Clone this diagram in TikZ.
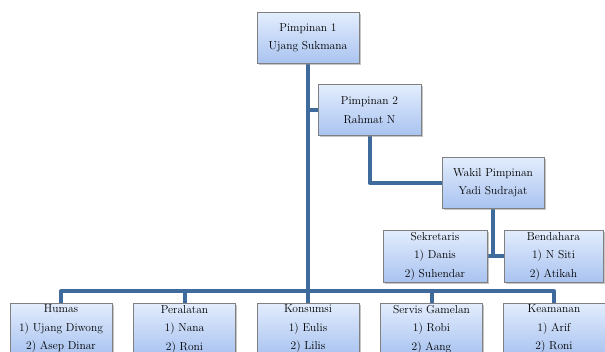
\documentclass[tikz,border=0pt]{standalone}
\usetikzlibrary{shadows,backgrounds}
\definecolor{boxtop}{HTML}{E3EDFD}
\definecolor{boxbot}{HTML}{A9C3F0}
\definecolor{boxline}{HTML}{808080}
\definecolor{conn}{HTML}{3F6A9C}
\begin{document}
\begin{tikzpicture}[x=1pt,y=-1pt,
  box/.style={draw=boxline, line width=0.8pt, top color=boxtop, bottom color=boxbot,
    minimum width=102pt, minimum height=51pt, align=center, inner sep=0pt,
    font=\fontsize{11.5}{18.5}\selectfont,
    drop shadow={shadow xshift=1.5pt, shadow yshift=-1.5pt, fill=black!45, opacity=0.5}},
  wire/.style={draw=conn, line width=4pt, line join=round}]
\useasboundingbox (0,0) rectangle (605,351);
\clip (0,0) rectangle (605,351);
\coordinate (bus) at (308,291);
% boxes
\node[box] (p1) at (308,38) {Pimpinan 1\\Ujang Sukmana};
\node[box, minimum width=103pt] (p2) at (369.5,110) {Pimpinan 2\\Rahmat N};
\node[box] (wak) at (493,182.5) {Wakil Pimpinan\\Yadi Sudrajat};
\node[box, minimum width=104pt, minimum height=52pt] (sek) at (435,256) {Sekretaris\\1) Danis\\2) Suhendar};
\node[box, minimum width=99pt, minimum height=52pt] (ben) at (553.5,256) {Bendahara\\1) N Siti\\2) Atikah};
\node[box, minimum height=52pt] (hum) at (61,329) {Humas\\1) Ujang Diwong\\2) Asep Dinar};
\node[box, minimum height=52pt] (per) at (184.5,329) {Peralatan\\1) Nana\\2) Roni};
\node[box, minimum height=52pt] (kon) at (308,329) {Konsumsi\\1) Eulis\\2) Lilis};
\node[box, minimum height=52pt] (ser) at (431.5,329) {Servis Gamelan\\1) Robi\\2) Aang};
\node[box, minimum height=52pt] (kea) at (554,329) {Keamanan\\1) Arif\\2) Roni};
% connectors behind boxes
\begin{scope}[on background layer]
\draw[wire] (p1.south) -- (kon.north);
\draw[wire] (p1.south |- p2.west) -- (p2.west);
\draw[wire] (p2.south) |- (wak.west);
\draw[wire] (wak.south) -- ++(0,-1) |- (sek.east);
\draw[wire] (sek.east) -- (ben.west);
\draw[wire] (hum.north) |- (bus) -| (kea.north);
\draw[wire] (per.north) -- (per.north |- bus);
\draw[wire] (ser.north) -- (ser.north |- bus);
\end{scope}
\end{tikzpicture}
\end{document}
